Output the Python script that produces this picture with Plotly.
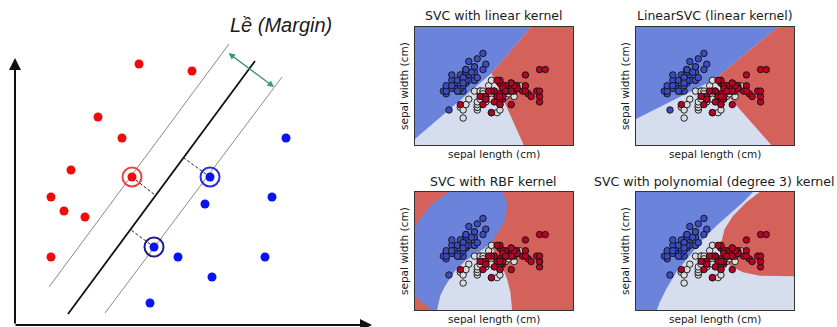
import plotly.graph_objects as go

W, H = 837, 327

# ---------------- Left diagram data (diagram units: x right, y down) ----------------
red_x = [139, 192, 98, 122, 71, 51, 64, 85, 51]
red_y = [64, 71, 117, 138, 170, 197, 211, 217, 257]
blue_x = [286, 272, 205, 178, 265, 212, 150]
blue_y = [138, 197, 204, 257, 257, 277, 303]
sv_red_x, sv_red_y = [132], [177]
sv_blue_x, sv_blue_y = [210], [177]
sv_navy_x, sv_navy_y = [154], [247]
hyper_x, hyper_y = [68, 255], [314, 61]
upper_x, upper_y = [49, 229], [287, 44]
lower_x, lower_y = [105, 282], [313, 77]
dash1_x, dash1_y = [132, 155], [177, 195]
dash2_x, dash2_y = [210, 184], [177, 158]
dash3_x, dash3_y = [154, 131], [247, 230]
margin_arrow = dict(x0=227, y0=52, x1=274, y1=87)
axis_origin = (15, 325)
axis_ytop = 58
axis_xright = 372

# ---------------- Iris sepal data ----------------
sepal_length = [
    5.1, 4.9, 4.7, 4.6, 5.0, 5.4, 4.6, 5.0, 4.4, 4.9, 5.4, 4.8, 4.8, 4.3, 5.8, 5.7, 5.4, 5.1, 5.7, 5.1,
    5.4, 5.1, 4.6, 5.1, 4.8, 5.0, 5.0, 5.2, 5.2, 4.7, 4.8, 5.4, 5.2, 5.5, 4.9, 5.0, 5.5, 4.9, 4.4, 5.1,
    5.0, 4.5, 4.4, 5.0, 5.1, 4.8, 5.1, 4.6, 5.3, 5.0,
    7.0, 6.4, 6.9, 5.5, 6.5, 5.7, 6.3, 4.9, 6.6, 5.2, 5.0, 5.9, 6.0, 6.1, 5.6, 6.7, 5.6, 5.8, 6.2, 5.6,
    5.9, 6.1, 6.3, 6.1, 6.4, 6.6, 6.8, 6.7, 6.0, 5.7, 5.5, 5.5, 5.8, 6.0, 5.4, 6.0, 6.7, 6.3, 5.6, 5.5,
    5.5, 6.1, 5.8, 5.0, 5.6, 5.7, 5.7, 6.2, 5.1, 5.7,
    6.3, 5.8, 7.1, 6.3, 6.5, 7.6, 4.9, 7.3, 6.7, 7.2, 6.5, 6.4, 6.8, 5.7, 5.8, 6.4, 6.5, 7.7, 7.7, 6.0,
    6.9, 5.6, 7.7, 6.3, 6.7, 7.2, 6.2, 6.1, 6.4, 7.2, 7.4, 7.9, 6.4, 6.3, 6.1, 7.7, 6.3, 6.4, 6.0, 6.9,
    6.7, 6.9, 5.8, 6.8, 6.7, 6.7, 6.3, 6.5, 6.2, 5.9]
sepal_width = [
    3.5, 3.0, 3.2, 3.1, 3.6, 3.9, 3.4, 3.4, 2.9, 3.1, 3.7, 3.4, 3.0, 3.0, 4.0, 4.4, 3.9, 3.5, 3.8, 3.8,
    3.4, 3.7, 3.6, 3.3, 3.4, 3.0, 3.4, 3.5, 3.4, 3.2, 3.1, 3.4, 4.1, 4.2, 3.1, 3.2, 3.5, 3.6, 3.0, 3.4,
    3.5, 2.3, 3.2, 3.5, 3.8, 3.0, 3.8, 3.2, 3.7, 3.3,
    3.2, 3.2, 3.1, 2.3, 2.8, 2.8, 3.3, 2.4, 2.9, 2.7, 2.0, 3.0, 2.2, 2.9, 2.9, 3.1, 3.0, 2.7, 2.2, 2.5,
    3.2, 2.8, 2.5, 2.8, 2.9, 3.0, 2.8, 3.0, 2.9, 2.6, 2.4, 2.4, 2.7, 2.7, 3.0, 3.4, 3.1, 2.3, 3.0, 2.5,
    2.6, 3.0, 2.6, 2.3, 2.7, 3.0, 2.9, 2.9, 2.5, 2.8,
    3.3, 2.7, 3.0, 2.9, 3.0, 3.0, 2.5, 2.9, 2.5, 3.6, 3.2, 2.7, 3.0, 2.5, 2.8, 3.2, 3.0, 3.8, 2.6, 2.2,
    3.2, 2.8, 2.8, 2.7, 3.3, 3.2, 2.8, 3.0, 2.8, 3.0, 2.8, 3.8, 2.8, 2.8, 2.6, 3.0, 3.4, 3.1, 3.0, 3.1,
    3.1, 3.1, 2.7, 3.2, 3.3, 3.0, 2.5, 3.0, 3.4, 3.0]
species = [0] * 50 + [1] * 50 + [2] * 50

X_MIN, X_MAX = 3.3, 8.88
Y_MIN, Y_MAX = 1.0, 5.38

# Decision boundaries (data units)
lin_blue_bound_x = [3.3, 6.0, 7.40]
lin_blue_bound_y = [1.22, 3.66, 5.38]
lin_red_bound_x = [7.40, 6.0, 7.14]
lin_red_bound_y = [5.38, 3.66, 1.0]

lsvc_blue_bound_x = [3.3, 6.05, 8.31]
lsvc_blue_bound_y = [1.965, 3.42, 5.38]
lsvc_red_bound_x = [8.31, 6.05, 8.08]
lsvc_red_bound_y = [5.38, 3.42, 1.0]

rbf_blue_x = [3.3, 3.55, 3.90, 4.37, 4.49, 6.37, 6.49, 6.55, 6.49, 6.31, 6.08, 5.96, 5.55, 5.08, 4.72,
              4.37, 4.19, 4.08, 3.96, 3.84, 3.55, 3.3]
rbf_blue_y = [4.07, 4.50, 4.93, 5.31, 5.38, 5.38, 5.24, 4.87, 4.38, 4.01, 3.64, 3.45, 3.14, 2.83, 2.46,
              1.90, 1.53, 1.0, 1.0, 1.06, 1.29, 1.53]
rbf_light_x = [5.96, 6.02, 6.20, 6.37, 6.55, 6.67, 6.73, 4.08, 4.19, 4.37, 4.72, 5.08, 5.55]
rbf_light_y = [3.45, 3.33, 3.02, 2.65, 2.15, 1.66, 1.0, 1.0, 1.53, 1.90, 2.46, 2.83, 3.14]

poly_blue_bound_x = [7.43, 7.08, 6.61, 6.14, 5.67, 5.20, 4.72, 4.37, 4.14, 4.04]
poly_blue_bound_y = [5.38, 5.00, 4.56, 4.13, 3.64, 3.02, 2.40, 1.78, 1.29, 1.0]
poly_red_bound_x = [7.67, 7.20, 6.73, 6.43, 6.31, 6.37, 6.61, 7.08, 7.67, 8.26, 8.88]
poly_red_bound_y = [5.38, 5.00, 4.50, 4.01, 3.51, 3.02, 2.65, 2.40, 2.27, 2.25, 2.25]

titles = ["SVC with linear kernel", "LinearSVC (linear kernel)",
          "SVC with RBF kernel", "SVC with polynomial (degree 3) kernel"]
x_label = "sepal length (cm)"
y_label = "sepal width (cm)"

C_BLUE_BG = "#6c83dc"
C_LIGHT_BG = "#d5ddef"
C_RED_BG = "#d5615b"
point_colors = {0: "#3b4cc0", 1: "#dcdcdc", 2: "#b40426"}

fig = go.Figure()

# Panel layout in pixels: (left, right, top, bottom)
panels = [(415, 573, 27, 145), (636, 794, 27, 145), (415, 573, 192, 310), (636, 794, 192, 310)]

layout_axes = {}
for i, (l, r, t, b) in enumerate(panels):
    n = i + 1
    layout_axes[f"xaxis{n}" if n > 1 else "xaxis"] = dict(
        domain=[l / W, r / W], range=[X_MIN, X_MAX], showgrid=False, zeroline=False,
        showticklabels=False, ticks="", showline=True, mirror=True, linecolor="#333333",
        linewidth=1, anchor=f"y{n}" if n > 1 else "y", fixedrange=True)
    layout_axes[f"yaxis{n}" if n > 1 else "yaxis"] = dict(
        domain=[1 - b / H, 1 - t / H], range=[Y_MIN, Y_MAX], showgrid=False, zeroline=False,
        showticklabels=False, ticks="", showline=True, mirror=True, linecolor="#333333",
        linewidth=1, anchor=f"x{n}" if n > 1 else "x", fixedrange=True)

# Left diagram axis (5)
layout_axes["xaxis5"] = dict(domain=[0, 380 / W], range=[0, 380], visible=False, anchor="y5", fixedrange=True)
layout_axes["yaxis5"] = dict(domain=[0, 1], range=[H, 0], visible=False, anchor="x5", fixedrange=True)


def ax(n):
    return ("x" if n == 1 else f"x{n}"), ("y" if n == 1 else f"y{n}")


def poly(n, xs, ys, color):
    xa, ya = ax(n)
    fig.add_trace(go.Scatter(x=xs + [xs[0]], y=ys + [ys[0]], mode="lines", fill="toself",
                             fillcolor=color, line=dict(width=0, color=color),
                             xaxis=xa, yaxis=ya, hoverinfo="skip", showlegend=False))


shapes = []
bg_colors = [C_LIGHT_BG, C_LIGHT_BG, C_RED_BG, C_LIGHT_BG]
for i in range(4):
    xa, ya = ax(i + 1)
    shapes.append(dict(type="rect", xref=xa, yref=ya, x0=X_MIN, x1=X_MAX, y0=Y_MIN, y1=Y_MAX,
                       fillcolor=bg_colors[i], line=dict(width=0), layer="below"))

# Panel 1
poly(1, lin_blue_bound_x + [X_MIN], lin_blue_bound_y + [Y_MAX], C_BLUE_BG)
poly(1, lin_red_bound_x + [X_MAX, X_MAX], lin_red_bound_y + [Y_MIN, Y_MAX], C_RED_BG)
# Panel 2
poly(2, lsvc_blue_bound_x + [X_MIN], lsvc_blue_bound_y + [Y_MAX], C_BLUE_BG)
poly(2, lsvc_red_bound_x + [X_MAX, X_MAX], lsvc_red_bound_y + [Y_MIN, Y_MAX], C_RED_BG)
# Panel 3
poly(3, rbf_blue_x, rbf_blue_y, C_BLUE_BG)
poly(3, rbf_light_x, rbf_light_y, C_LIGHT_BG)
# Panel 4
poly(4, poly_blue_bound_x + [X_MIN, X_MIN], poly_blue_bound_y + [Y_MIN, Y_MAX], C_BLUE_BG)
poly(4, poly_red_bound_x + [X_MAX], poly_red_bound_y + [Y_MAX], C_RED_BG)

for i in range(4):
    xa, ya = ax(i + 1)
    fig.add_trace(go.Scatter(
        x=sepal_length, y=sepal_width, mode="markers", xaxis=xa, yaxis=ya,
        marker=dict(size=6.5, color=[point_colors[s] for s in species],
                    line=dict(color="#111111", width=0.9)),
        hoverinfo="skip", showlegend=False))

# ---------------- Left diagram ----------------
def line5(xs, ys, color, width, dash="solid"):
    fig.add_trace(go.Scatter(x=xs, y=ys, mode="lines", xaxis="x5", yaxis="y5",
                             line=dict(color=color, width=width, dash=dash),
                             hoverinfo="skip", showlegend=False))


line5(upper_x, upper_y, "#8a8a8a", 1)
line5(lower_x, lower_y, "#8a8a8a", 1)
line5(hyper_x, hyper_y, "#111111", 1.8)
for dx, dy in [(dash1_x, dash1_y), (dash2_x, dash2_y), (dash3_x, dash3_y)]:
    line5(dx, dy, "#222222", 1, "3px,2px")

fig.add_trace(go.Scatter(x=red_x + sv_red_x, y=red_y + sv_red_y, mode="markers", xaxis="x5", yaxis="y5",
                         marker=dict(size=9, color="#f00a0a"), hoverinfo="skip", showlegend=False))
fig.add_trace(go.Scatter(x=blue_x + sv_blue_x + sv_navy_x, y=blue_y + sv_blue_y + sv_navy_y,
                         mode="markers", xaxis="x5", yaxis="y5",
                         marker=dict(size=9, color="#0a14f0"), hoverinfo="skip", showlegend=False))
for sx, sy, c in [(sv_red_x, sv_red_y, "#ee4040"), (sv_blue_x, sv_blue_y, "#2a2ae6"),
                  (sv_navy_x, sv_navy_y, "#1d1d8c")]:
    fig.add_trace(go.Scatter(x=sx, y=sy, mode="markers", xaxis="x5", yaxis="y5",
                             marker=dict(size=19, symbol="circle-open", color=c, line=dict(width=2, color=c)),
                             hoverinfo="skip", showlegend=False))

annotations = []
# axis arrows
ox, oy = axis_origin
annotations.append(dict(x=ox, y=axis_ytop, ax=ox, ay=oy, xref="x5", yref="y5", axref="x5", ayref="y5",
                        showarrow=True, arrowhead=2, arrowsize=1.2, arrowwidth=2, arrowcolor="#111111", text=""))
annotations.append(dict(x=axis_xright, y=oy, ax=ox - 1, ay=oy, xref="x5", yref="y5", axref="x5", ayref="y5",
                        showarrow=True, arrowhead=2, arrowsize=1.2, arrowwidth=2, arrowcolor="#111111", text=""))
# margin arrow
annotations.append(dict(x=margin_arrow["x1"], y=margin_arrow["y1"], ax=margin_arrow["x0"], ay=margin_arrow["y0"],
                        xref="x5", yref="y5", axref="x5", ayref="y5", showarrow=True, arrowhead=2,
                        startarrowhead=2, arrowside="end+start", arrowsize=1, arrowwidth=1.3,
                        arrowcolor="#3a9a6c", text=""))
annotations.append(dict(x=281, y=25, xref="x5", yref="y5", text="Lề (Margin)", showarrow=False,
                        font=dict(family="Liberation Sans, Arial", size=20, color="#1a1a1a", style="italic")))

title_pos = [(494, 16), (715, 16), (493, 181), (714, 181)]
for t, (px, py) in zip(titles, title_pos):
    annotations.append(dict(x=px / W, y=1 - py / H, xref="paper", yref="paper", text=t, showarrow=False,
                            font=dict(family="DejaVu Sans", size=12.5, color="#1a1a1a"),
                            xanchor="center", yanchor="middle"))
for (l, r, t, b) in panels:
    annotations.append(dict(x=(l + r) / 2 / W, y=1 - (b + 9) / H, xref="paper", yref="paper", text=x_label,
                            showarrow=False, font=dict(family="DejaVu Sans", size=10.5, color="#1a1a1a"),
                            xanchor="center", yanchor="middle"))
    annotations.append(dict(x=(l - 11) / W, y=1 - (t + b) / 2 / H, xref="paper", yref="paper", text=y_label,
                            showarrow=False, textangle=-90,
                            font=dict(family="DejaVu Sans", size=10.5, color="#1a1a1a"),
                            xanchor="center", yanchor="middle"))

fig.update_layout(width=W, height=H, margin=dict(l=0, r=0, t=0, b=0), paper_bgcolor="white",
                  plot_bgcolor="white", showlegend=False, shapes=shapes, annotations=annotations,
                  **layout_axes)

fig.write_html("out.html", config={"displayModeBar": False},
               post_script="document.body.style.margin='0';document.body.style.overflow='hidden';")
